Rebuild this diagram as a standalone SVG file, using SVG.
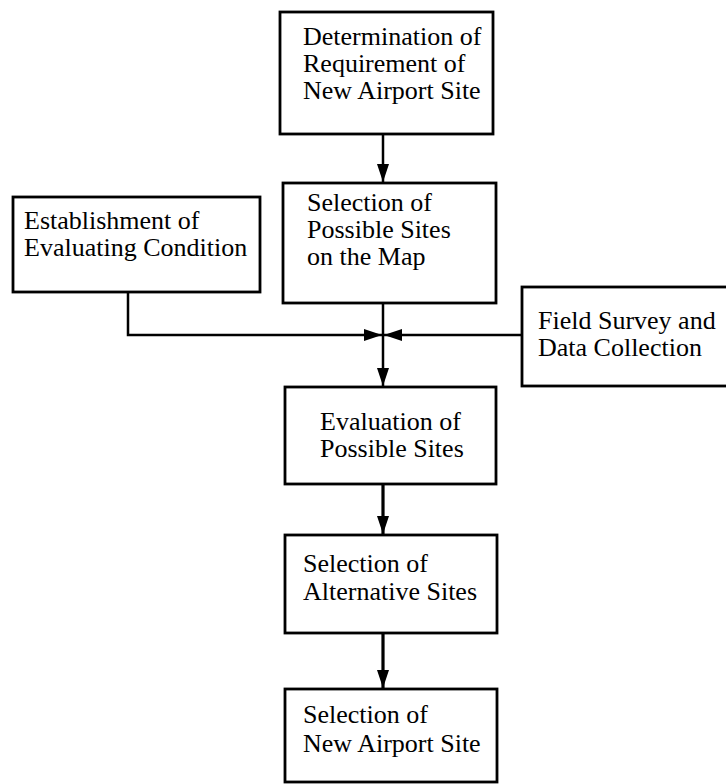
<svg xmlns="http://www.w3.org/2000/svg" width="726" height="784" viewBox="0 0 726 784">
<style>
.box{fill:#fff;stroke:#000;stroke-width:2.8}
.t{font-family:"Liberation Serif","Times New Roman",serif;font-size:26px;fill:#000}
.ln{fill:none;stroke:#000;stroke-width:2.5}
.thk{stroke-width:3.2}
</style>
<defs>
<marker id="ah" viewBox="0 0 18 12" refX="18" refY="6" markerWidth="18" markerHeight="12" markerUnits="userSpaceOnUse" orient="auto">
<path d="M0,0 L18,6 L0,12 Z" fill="#000"/>
</marker>
</defs>
<rect width="726" height="784" fill="#fff"/>
<g id="n1">
<rect class="box" x="280" y="12" width="213" height="122"/>
<text class="t" x="303" y="45">Determination of</text>
<text class="t" x="303" y="72">Requirement of</text>
<text class="t" x="303" y="99">New Airport Site</text>
</g>
<g id="n2">
<rect class="box" x="283" y="183" width="213" height="120"/>
<text class="t" x="307" y="211">Selection of</text>
<text class="t" x="307" y="238">Possible Sites</text>
<text class="t" x="307" y="265">on the Map</text>
</g>
<g id="n3">
<rect class="box" x="13" y="197" width="247" height="95"/>
<text class="t" x="24" y="229">Establishment of</text>
<text class="t" x="24" y="256">Evaluating Condition</text>
</g>
<g id="n4">
<rect class="box" x="522" y="287" width="210" height="99"/>
<text class="t" x="538" y="329">Field Survey and</text>
<text class="t" x="538" y="356">Data Collection</text>
</g>
<g id="n5">
<rect class="box" x="285" y="387" width="211" height="97"/>
<text class="t" x="320" y="430">Evaluation of</text>
<text class="t" x="320" y="457">Possible Sites</text>
</g>
<g id="n6">
<rect class="box" x="285" y="535" width="212" height="98"/>
<text class="t" x="303" y="572">Selection of</text>
<text class="t" x="303" y="600">Alternative Sites</text>
</g>
<g id="n7">
<rect class="box" x="285" y="689" width="212" height="93"/>
<text class="t" x="303" y="723">Selection of</text>
<text class="t" x="303" y="752">New Airport Site</text>
</g>
<g id="connectors">
<path class="ln" d="M383,134 V182" marker-end="url(#ah)"/>
<path class="ln" d="M383,303 V386" marker-end="url(#ah)"/>
<path class="ln" d="M128,292 V335 H382" marker-end="url(#ah)"/>
<path class="ln" d="M522,335 H384" marker-end="url(#ah)"/>
<path class="ln thk" d="M383,484 V534" marker-end="url(#ah)"/>
<path class="ln thk" d="M383,633 V688" marker-end="url(#ah)"/>
</g>
</svg>
